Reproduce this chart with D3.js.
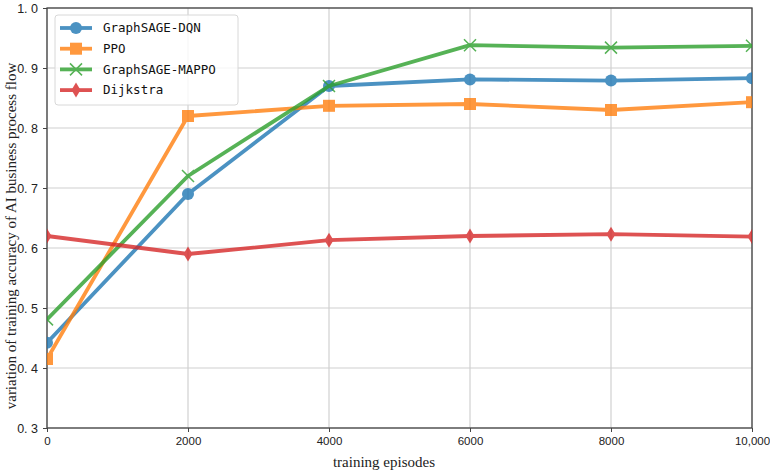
<!DOCTYPE html>
<meta charset="utf-8">
<script src="https://d3js.org/d3.v7.min.js"></script>
<style>
  body { margin: 0; background: #fff; }
  .ytick { font: 12.5px "Liberation Sans", Arial, sans-serif; fill: #222; }
  .xtick { font: 11.5px "Liberation Sans", Arial, sans-serif; fill: #222; }
  .alabel { font: 15px "Liberation Serif", "Times New Roman", serif; fill: #222; }
  .leg { font: 12.5px "DejaVu Sans Mono", monospace; fill: #111; }
</style>
<div id="chart"></div>
<script>
var episodes = [0, 2000, 4000, 6000, 8000, 10000];
var dqn      = [0.442, 0.69, 0.870, 0.881, 0.879, 0.883];
var ppo      = [0.415, 0.82, 0.837, 0.840, 0.830, 0.843];
var mappo    = [0.481, 0.72, 0.870, 0.938, 0.934, 0.937];
var dijkstra = [0.620, 0.59, 0.613, 0.620, 0.623, 0.619];
var seriesNames = ["GraphSAGE-DQN", "PPO", "GraphSAGE-MAPPO", "Dijkstra"];
var xTicks = [0, 2000, 4000, 6000, 8000, 10000];
var xTickLabels = ["0", "2000", "4000", "6000", "8000", "10,000"];
var yTicks = [0.3, 0.4, 0.5, 0.6, 0.7, 0.8, 0.9, 1.0];

var colors = ["#1f77b4", "#ff7f0e", "#2ca02c", "#d62728"];
var shapes = ["circle", "square", "x", "diamond"];
var allSeries = [dqn, ppo, mappo, dijkstra];

var W = 770, H = 474;
var margin = {top: 8, right: 18, bottom: 46, left: 47};
var width = W - margin.left - margin.right,
    height = H - margin.top - margin.bottom;

var svg = d3.select("#chart").append("svg")
  .attr("width", W).attr("height", H);
var g = svg.append("g")
  .attr("transform", "translate(" + margin.left + "," + margin.top + ")");

var x = d3.scaleLinear().domain([0, 10000]).range([0, width]);
var y = d3.scaleLinear().domain([0.3, 1.0]).range([height, 0]);

// grid
g.selectAll(".gx").data(xTicks).enter().append("line")
  .attr("x1", d => x(d)).attr("x2", d => x(d))
  .attr("y1", 0).attr("y2", height)
  .attr("stroke", "#d0d0d0").attr("stroke-width", 1.2);
g.selectAll(".gy").data(yTicks).enter().append("line")
  .attr("y1", d => y(d)).attr("y2", d => y(d))
  .attr("x1", 0).attr("x2", width)
  .attr("stroke", "#d0d0d0").attr("stroke-width", 1.2);

// axes
var xAxis = g.append("g").attr("transform", "translate(0," + height + ")")
  .call(d3.axisBottom(x).tickValues(xTicks)
    .tickFormat((d, i) => xTickLabels[i]).tickSize(4).tickPadding(5));
var yAxis = g.append("g")
  .call(d3.axisLeft(y).tickValues(yTicks)
    .tickFormat(d => d.toFixed(1).replace(".", ".\u00a0")).tickSize(4).tickPadding(5));
[xAxis, yAxis].forEach(a => {
  a.attr("font-size", null).attr("font-family", null);
  a.select(".domain").remove();
  a.selectAll("line").attr("stroke", "#444");
});
xAxis.selectAll("text").attr("class", "xtick");
yAxis.selectAll("text").attr("class", "ytick");
g.append("rect").attr("width", width).attr("height", height)
  .attr("fill", "none").attr("stroke", "#444").attr("stroke-width", 1.3);

function marker(sel, shape, color) {
  if (shape === "circle") {
    sel.append("circle").attr("r", 6).attr("fill", color);
  } else if (shape === "square") {
    sel.append("rect").attr("x", -6).attr("y", -6).attr("width", 12).attr("height", 12).attr("fill", color);
  } else if (shape === "x") {
    sel.append("path").attr("d", "M-6,-6L6,6M-6,6L6,-6")
      .attr("stroke", color).attr("stroke-width", 1.5).attr("fill", "none");
  } else {
    sel.append("path").attr("d", "M0,-7.5L4.5,0L0,7.5L-4.5,0Z").attr("fill", color);
  }
}

var line = d3.line().x((d, i) => x(episodes[i])).y(d => y(d));
svg.append("defs").append("clipPath").attr("id", "clip")
  .append("rect").attr("width", width).attr("height", height);
var plot = g.append("g").attr("clip-path", "url(#clip)");

allSeries.forEach(function(s, k) {
  var sg = plot.append("g").attr("opacity", 0.8);
  sg.append("path").datum(s).attr("d", line)
    .attr("fill", "none").attr("stroke", colors[k]).attr("stroke-width", 3.8)
    .attr("stroke-linejoin", "round");
  s.forEach(function(v, i) {
    var m = sg.append("g").attr("transform", "translate(" + x(episodes[i]) + "," + y(v) + ")");
    marker(m, shapes[k], colors[k]);
  });
});

// legend
var leg = g.append("g").attr("transform", "translate(8,7)");
leg.append("rect").attr("width", 183).attr("height", 90).attr("rx", 3)
  .attr("fill", "#fff").attr("fill-opacity", 0.8)
  .attr("stroke", "#d8d8d8").attr("stroke-width", 1);
seriesNames.forEach(function(n, k) {
  var row = leg.append("g").attr("transform", "translate(0," + (13 + k * 20.7) + ")").attr("opacity", 0.8);
  row.append("line").attr("x1", 5).attr("x2", 37).attr("stroke", colors[k]).attr("stroke-width", 3.8);
  var m = row.append("g").attr("transform", "translate(21,0)");
  marker(m, shapes[k], colors[k]);
  leg.append("text").attr("class", "leg").attr("x", 48).attr("y", 13 + k * 20.7).attr("dy", "0.35em").text(n);
});

// axis labels
svg.append("text").attr("class", "alabel")
  .attr("x", 384).attr("y", 467).attr("text-anchor", "middle")
  .text("training episodes");
svg.append("text").attr("class", "alabel")
  .attr("transform", "translate(16,236) rotate(-90)")
  .attr("text-anchor", "middle")
  .text("variation of training accuracy of AI business process flow");
</script>
